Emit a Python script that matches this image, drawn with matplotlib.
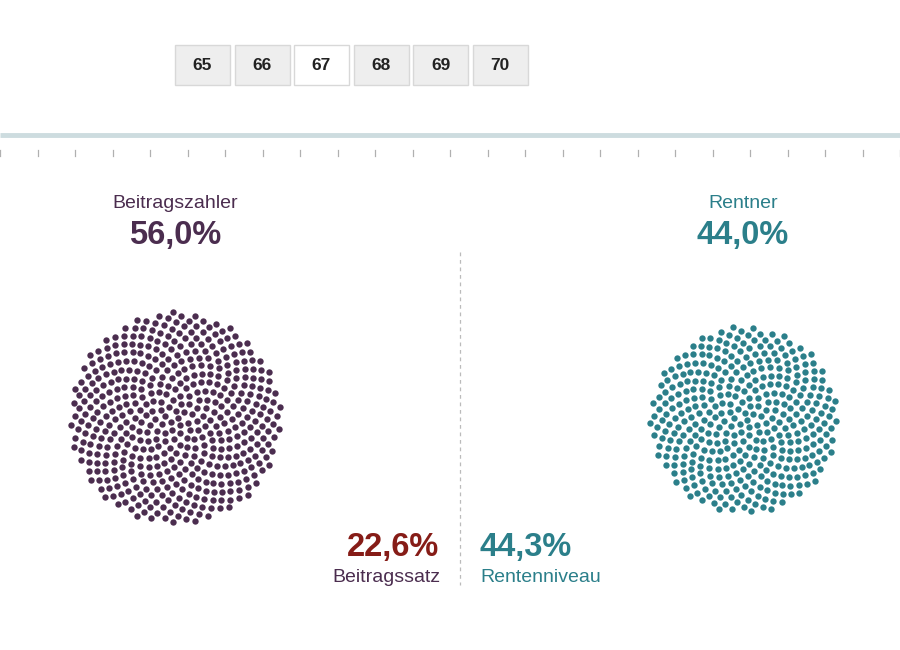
import numpy as np
import matplotlib
matplotlib.use("Agg")
from matplotlib import pyplot as plt
from matplotlib.patches import Rectangle

plt.rcParams["font.family"] = ["Liberation Sans", "DejaVu Sans"]

# Data
years = ["65", "66", "67", "68", "69", "70"]
selected_year = "67"
groups = ["Beitragszahler", "Rentner"]
shares = [56.0, 44.0]          # percent of all people
group_colors = ["#4b2d4f", "#2b7f8a"]
beitragssatz = 22.6
rentenniveau = 44.3

dots_per_percent = 9
golden = np.pi * (3 - np.sqrt(5))


def sunflower(n, cx, cy, spacing):
    # packs n dots into a disc, radius grows with sqrt(n)
    i = np.arange(n)
    r = spacing * np.sqrt(i + 0.5)
    t = i * golden
    return cx + r * np.cos(t), cy + r * np.sin(t)


def pct(v):
    return f"{v:.1f}%".replace(".", ",")


fig = plt.figure(figsize=(9, 6.5), dpi=100)
ax = fig.add_axes([0, 0, 1, 1])
ax.set_xlim(0, 900)
ax.set_ylim(650, 0)
ax.axis("off")

# year buttons
bx = 175
for y in years:
    face = "white" if y == selected_year else "#eeeeee"
    ax.add_patch(Rectangle((bx, 45), 55, 40, facecolor=face, edgecolor="#d8d8d8", lw=1))
    ax.text(bx + 27.5, 66, y, ha="center", va="center", fontsize=12.5,
            fontweight="bold", color="#222222")
    bx += 59.5

# timeline bar and ticks
ax.plot([0, 900], [135, 135], color="#cddcdf", lw=3.5, solid_capstyle="butt")
for tx in np.arange(0, 901, 37.5):
    ax.plot([tx, tx], [150, 156], color="#b0b0b0", lw=0.9)

# dashed divider
ax.plot([460, 460], [252, 585], color="#bbbbbb", lw=0.9, ls=(0, (3, 3)))

# dot clusters
centers = [(175, 418), (744, 420)]
label_x = [175, 743]
for g, s, c, (cx, cy), lx in zip(groups, shares, group_colors, centers, label_x):
    n = int(round(s * dots_per_percent))
    xs, ys = sunflower(n, cx, cy, 4.72)
    ax.scatter(xs, ys, s=21, color=c, linewidths=0)
    ax.text(lx, 208, g, ha="center", va="baseline", fontsize=14, color=c)
    ax.text(lx, 244, pct(s), ha="center", va="baseline", fontsize=23.5,
            fontweight="bold", color=c)

# Beitragssatz / Rentenniveau
ax.text(439, 556, pct(beitragssatz), ha="right", va="baseline", fontsize=23.5,
        fontweight="bold", color="#861c17")
ax.text(440, 582, "Beitragssatz", ha="right", va="baseline", fontsize=14,
        color=group_colors[0])
ax.text(479, 556, pct(rentenniveau), ha="left", va="baseline", fontsize=23.5,
        fontweight="bold", color=group_colors[1])
ax.text(480, 582, "Rentenniveau", ha="left", va="baseline", fontsize=14,
        color=group_colors[1])

fig.savefig("out.png", dpi=100)
